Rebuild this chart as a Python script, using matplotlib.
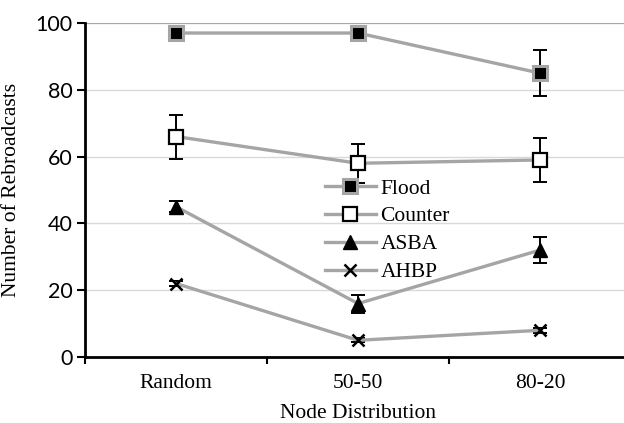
import matplotlib
matplotlib.use("Agg")
import matplotlib.pyplot as plt
import numpy as np

CATEGORIES = ["Random", "50-50", "80-20"]

flood = [97, 97, 85]
flood_err = [0, 0, 6.8]
counter = [66, 58, 59]
counter_err = [6.6, 5.8, 6.7]
asba = [45, 16, 32]
asba_err = [1.7, 2.7, 3.9]
ahbp = [22, 5, 8]
ahbp_err = [0.8, 0.6, 0.8]

LINE = "#A5A5A5"
SERIF = "Liberation Serif"
SANS = "Lato"
FS = 15.5

fig = plt.figure(figsize=(6.24, 4.23), dpi=100)
ax = fig.add_axes([85 / 624, 1 - 357 / 423, 546 / 624, 334 / 423])

x = np.arange(len(CATEGORIES))

series = [
    ("Flood", flood, flood_err, dict(marker="s", markersize=10, markerfacecolor="black",
                                     markeredgecolor=LINE, markeredgewidth=2.2)),
    ("Counter", counter, counter_err, dict(marker="s", markersize=10, markerfacecolor="white",
                                           markeredgecolor="black", markeredgewidth=1.6)),
    ("ASBA", asba, asba_err, dict(marker="^", markersize=10, markerfacecolor="black",
                                  markeredgecolor="black")),
    ("AHBP", ahbp, ahbp_err, dict(marker="x", markersize=8, markeredgecolor="black",
                                  markeredgewidth=1.8)),
]

for name, vals, err, mstyle in series:
    ax.errorbar(x, vals, yerr=err, fmt="none", ecolor="black", elinewidth=1.4,
                capsize=5, capthick=1.4, zorder=2)
    ax.plot(x, vals, color=LINE, linewidth=2.4, label=name, zorder=3, **mstyle)

ax.set_xlim(-0.5, 2.5)
ax.set_ylim(0, 100)
ax.set_yticks(range(0, 101, 20))
ax.grid(axis="y", color="#D9D9D9", linewidth=1)
ax.axhline(100, color="#A6A6A6", linewidth=1.5, zorder=1)
ax.set_axisbelow(True)

ax.set_xticks(x)
ax.set_xticklabels(CATEGORIES, fontfamily=SERIF, fontsize=FS)
ax.set_xticks(np.arange(-0.5, 3.0, 1.0), minor=True)
ax.tick_params(axis="x", which="major", length=0, pad=12)
ax.tick_params(axis="x", which="minor", length=5, width=1.5, direction="out")
ax.tick_params(axis="y", length=6, width=1.5, direction="out", pad=3)
for lbl in ax.get_yticklabels():
    lbl.set_fontfamily(SANS)
    lbl.set_fontsize(FS)

for side in ("top", "right"):
    ax.spines[side].set_visible(False)
for side in ("left", "bottom"):
    ax.spines[side].set_linewidth(2)
    ax.spines[side].set_color("black")

ax.set_xlabel("Node Distribution", fontfamily=SERIF, fontsize=FS, labelpad=8)
ax.set_ylabel("Number of Rebroadcasts", fontfamily=SERIF, fontsize=FS, labelpad=10)

leg = ax.legend(loc="upper left", bbox_to_anchor=(0.423, 0.56), frameon=False,
                prop={"family": SERIF, "size": FS}, handlelength=2.4,
                handletextpad=0.2, labelspacing=0.36, borderaxespad=0)

fig.savefig("out.png", dpi=100)
